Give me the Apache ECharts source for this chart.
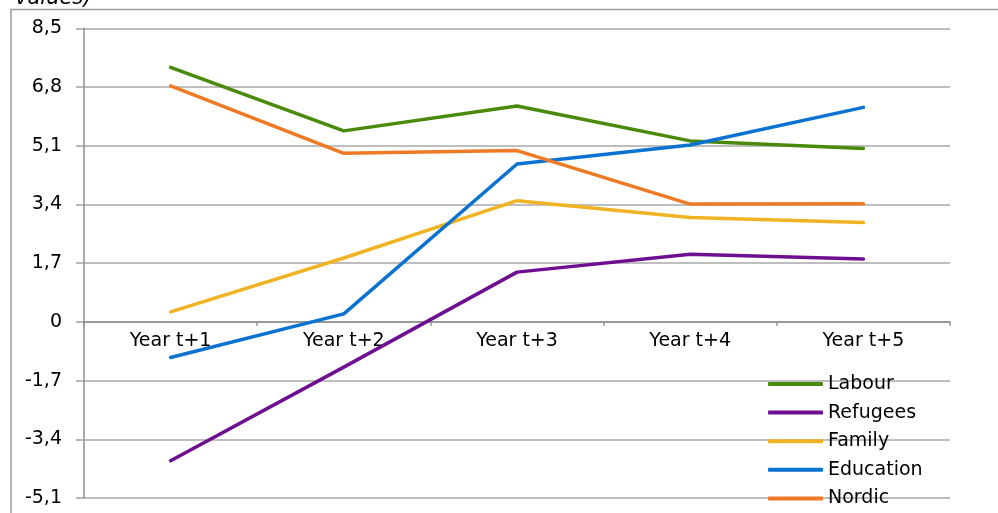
<!DOCTYPE html>
<html>
<head>
<meta charset="utf-8">
<script src="https://cdn.jsdelivr.net/npm/echarts@6/dist/echarts.min.js"></script>
<style>
html,body{margin:0;padding:0;background:#fff;}
#chart{width:998px;height:513px;}
</style>
</head>
<body>
<div id="chart"></div>
<script>
var categories = ['Year t+1','Year t+2','Year t+3','Year t+4','Year t+5'];
var labour    = [7.37, 5.53, 6.25, 5.24, 5.02];
var refugees  = [-4.02, -1.31, 1.44, 1.96, 1.82];
var family    = [0.29, 1.85, 3.51, 3.02, 2.88];
var education = [-1.03, 0.23, 4.57, 5.12, 6.21];
var nordic    = [6.83, 4.88, 4.96, 3.41, 3.42];
var seriesNames = ['Labour','Refugees','Family','Education','Nordic'];
var seriesColors = ['#4A8A0A','#6E0F91','#F0B323','#0A72D0','#EE7A25'];
var yMin = -5.1, yMax = 8.5, yStep = 1.7;

var gridTop = 28.3, gridBottom = 15, H = 513;
var plotH = H - gridTop - gridBottom;
// distance from grid bottom up to the zero line (styling: puts category axis on zero)
var zeroOffset = -plotH * (0 - yMin) / (yMax - yMin);

var chart = echarts.init(document.getElementById('chart'));
var dataSets = [labour, refugees, family, education, nordic];
var series = seriesNames.map(function(n,i){
  return {
    name: n, type: 'line', data: dataSets[i], symbol: 'none',
    lineStyle: {width: 3.5, color: seriesColors[i], cap: 'round', join: 'round'},
    itemStyle: {color: seriesColors[i]},
    animation: false
  };
});
var font = '"DejaVu Sans", sans-serif';
chart.setOption({
  animation: false,
  textStyle: {fontFamily: font},
  grid: {left: 84, right: 48, top: gridTop, bottom: gridBottom, containLabel: false, outerBoundsMode: 'none'},
  graphic: [
    {type: 'rect', shape: {x: 11, y: 9.5, width: 1100, height: 600},
     style: {fill: 'none', stroke: '#9A9A9A', lineWidth: 1.5}, silent: true, z: -1},
    {type: 'text', x: 15, y: 9,
     style: {text: 'values)', font: 'italic 21px "DejaVu Sans", sans-serif', fill: '#000', verticalAlign: 'bottom'}}
  ],
  legend: {
    orient: 'vertical', left: 768, top: 374.5, padding: 0, height: 200,
    itemWidth: 55, itemHeight: 4, itemGap: 9.6, icon: 'roundRect',
    textStyle: {fontSize: 19, color: '#000', fontFamily: font, lineHeight: 18},
    data: seriesNames
  },
  xAxis: {
    type: 'category', data: categories, boundaryGap: true,
    offset: zeroOffset,
    axisLine: {onZero: false, lineStyle: {color: '#8C8C8C', width: 1.5}},
    axisTick: {show: true, length: 4, lineStyle: {color: '#8C8C8C', width: 1.5}},
    axisLabel: {color: '#000', fontSize: 19, fontFamily: font, margin: 10}
  },
  yAxis: {
    type: 'value', min: yMin, max: yMax, interval: yStep,
    axisLine: {show: true, lineStyle: {color: '#8C8C8C', width: 1.5}},
    axisTick: {show: true, length: 8, lineStyle: {color: '#A0A0A0', width: 1.5}},
    splitLine: {show: true, lineStyle: {color: '#A8A8A8', width: 1.5}},
    axisLabel: {color: '#000', fontSize: 19, fontFamily: font, margin: 22,
      formatter: function(v){
        var s = (Math.round(v*10)/10).toFixed(1);
        if (s === '0.0' || s === '-0.0') return '0';
        return s.replace('.', ',');
      }}
  },
  series: series
});
</script>
</body>
</html>
